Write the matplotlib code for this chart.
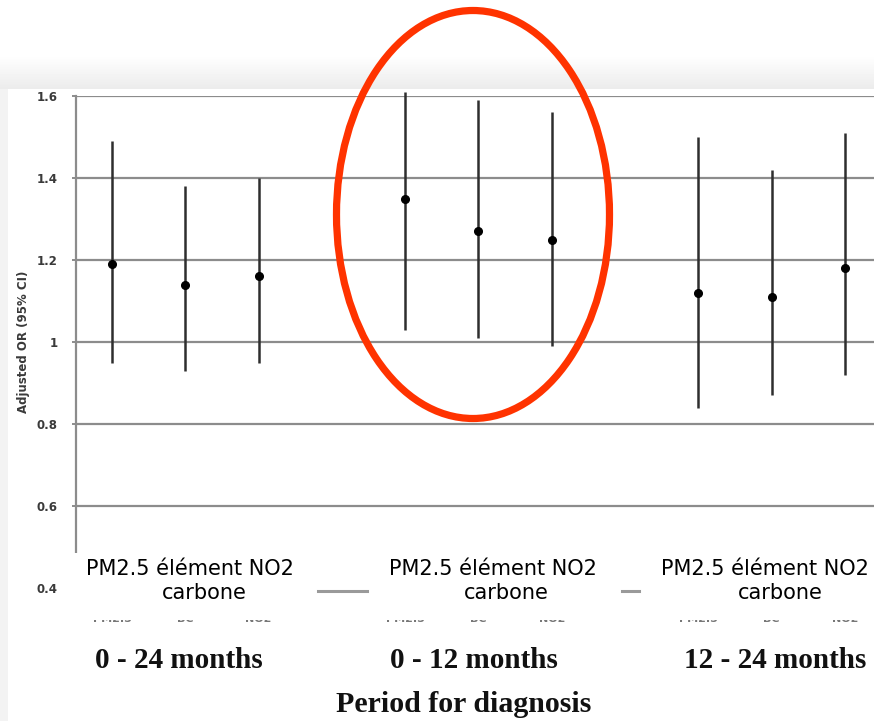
import matplotlib

matplotlib.use("Agg")
import matplotlib.pyplot as plt
import numpy as np
from matplotlib.patches import Ellipse, Rectangle

# adjusted odds ratios (95% CI), three pollutants per diagnosis period
periods = ["0 - 24 months", "0 - 12 months", "12 - 24 months"]
pollutants = ["PM2.5", "BC", "NO2"]
or_est = [1.19, 1.14, 1.16, 1.35, 1.27, 1.25, 1.12, 1.11, 1.18]
ci_low = [0.95, 0.93, 0.95, 1.03, 1.01, 0.99, 0.84, 0.87, 0.92]
ci_high = [1.49, 1.38, 1.40, 1.61, 1.59, 1.56, 1.50, 1.42, 1.51]
yticks = [0.4, 0.6, 0.8, 1.0, 1.2, 1.4, 1.6]
ytick_labels = ["0.4", "0.6", "0.8", "1", "1.2", "1.4", "1.6"]
overlay_label = ("PM2.5 élément NO2", "carbone")

W, H = 874, 721
fig = plt.figure(figsize=(W / 100, H / 100), dpi=100)

# screenshot background: soft shadow on top and left edges
bg = np.ones((H, W))
rows = np.arange(H)
band = (rows >= 55) & (rows < 89)
bg[band, :] = (1 - 0.08 * (rows[band] - 55) / 34)[:, None]
bg[89:, :8] = 0.95
bg_ax = fig.add_axes([0, 0, 1, 1], zorder=-5)
bg_ax.imshow(bg, cmap="gray", vmin=0, vmax=1, aspect="auto", interpolation="bilinear")
bg_ax.axis("off")

# x slots: three per group with an empty slot between groups
xpos = []
for g in range(len(periods)):
    xpos += [1 + 4 * g + k for k in range(len(pollutants))]
xpos = np.array(xpos)
est = np.array(or_est)
lo = np.array(ci_low)
hi = np.array(ci_high)

px = 73.3  # pixels per x slot
ax = fig.add_axes([76 / W, 1 - 588 / H, 1 - 76 / W, (588 - 96) / H], zorder=1)
ax.set_facecolor("none")
ax.set_xlim(1 - 36 / px, 1 + (W - 112) / px)
ax.set_ylim(0.4, 1.6)
for v in yticks[1:]:
    ax.axhline(v, color="#8c8c8c", lw=1.6, zorder=1)
ax.errorbar(
    xpos,
    est,
    yerr=[est - lo, hi - est],
    fmt="o",
    color="black",
    ms=5.5,
    ecolor="#2e2e2e",
    elinewidth=1.8,
    capsize=0,
    zorder=3,
    clip_on=False,
)
ax.set_yticks(yticks)
ax.set_yticklabels(ytick_labels, fontsize=8.5, fontweight="bold", color="#3a3a3a")
ax.tick_params(axis="y", direction="out", length=3, width=1.4, color="#8c8c8c", pad=10)
ax.set_xticks(xpos)
ax.set_xticklabels(pollutants * len(periods), fontsize=8, fontweight="bold", color="#777777")
ax.tick_params(axis="x", length=0, pad=19)
for s in ["top", "right", "bottom"]:
    ax.spines[s].set_visible(False)
ax.spines["left"].set_color("#8c8c8c")
ax.spines["left"].set_linewidth(1.6)
ax.spines["left"].set_bounds(0.4, 1.6)
ax.set_ylabel("Adjusted OR (95% CI)", fontsize=8.5, fontweight="bold", color="#3a3a3a", labelpad=5)

# overlay in pixel coordinates: text box, labels, ellipse
ov = fig.add_axes([0, 0, 1, 1], zorder=5)
ov.set_xlim(0, W)
ov.set_ylim(H, 0)
ov.axis("off")
ov.set_facecolor("none")
# white box hides most of the original pollutant labels
ov.add_patch(Rectangle((64, 553), W - 64, 67, facecolor="white", edgecolor="none"))
ov.plot([318, 367], [591, 591], color="#9a9a9a", lw=2.2)
ov.plot([622, 639], [591, 591], color="#9a9a9a", lw=2.2)

line1_x = [190, 493, 765]
line2_x = [204, 506, 780]
period_x = [179, 474, 775]
for g in range(len(periods)):
    ov.text(line1_x[g], 569, overlay_label[0], fontsize=15, ha="center", va="center", color="black")
    ov.text(line2_x[g], 593, overlay_label[1], fontsize=15, ha="center", va="center", color="black")
    ov.text(period_x[g], 660, periods[g], fontsize=21, fontweight="bold", family="Liberation Serif",
            ha="center", va="center", color="#111111")

ov.text(464, 704, "Period for diagnosis", fontsize=21.5, fontweight="bold", family="Liberation Serif",
        ha="center", va="center", color="#111111")
ov.add_patch(Ellipse((473, 214.5), 273, 408, facecolor="none", edgecolor="#ff3300", lw=5.2))

fig.savefig("out.png", dpi=100)
